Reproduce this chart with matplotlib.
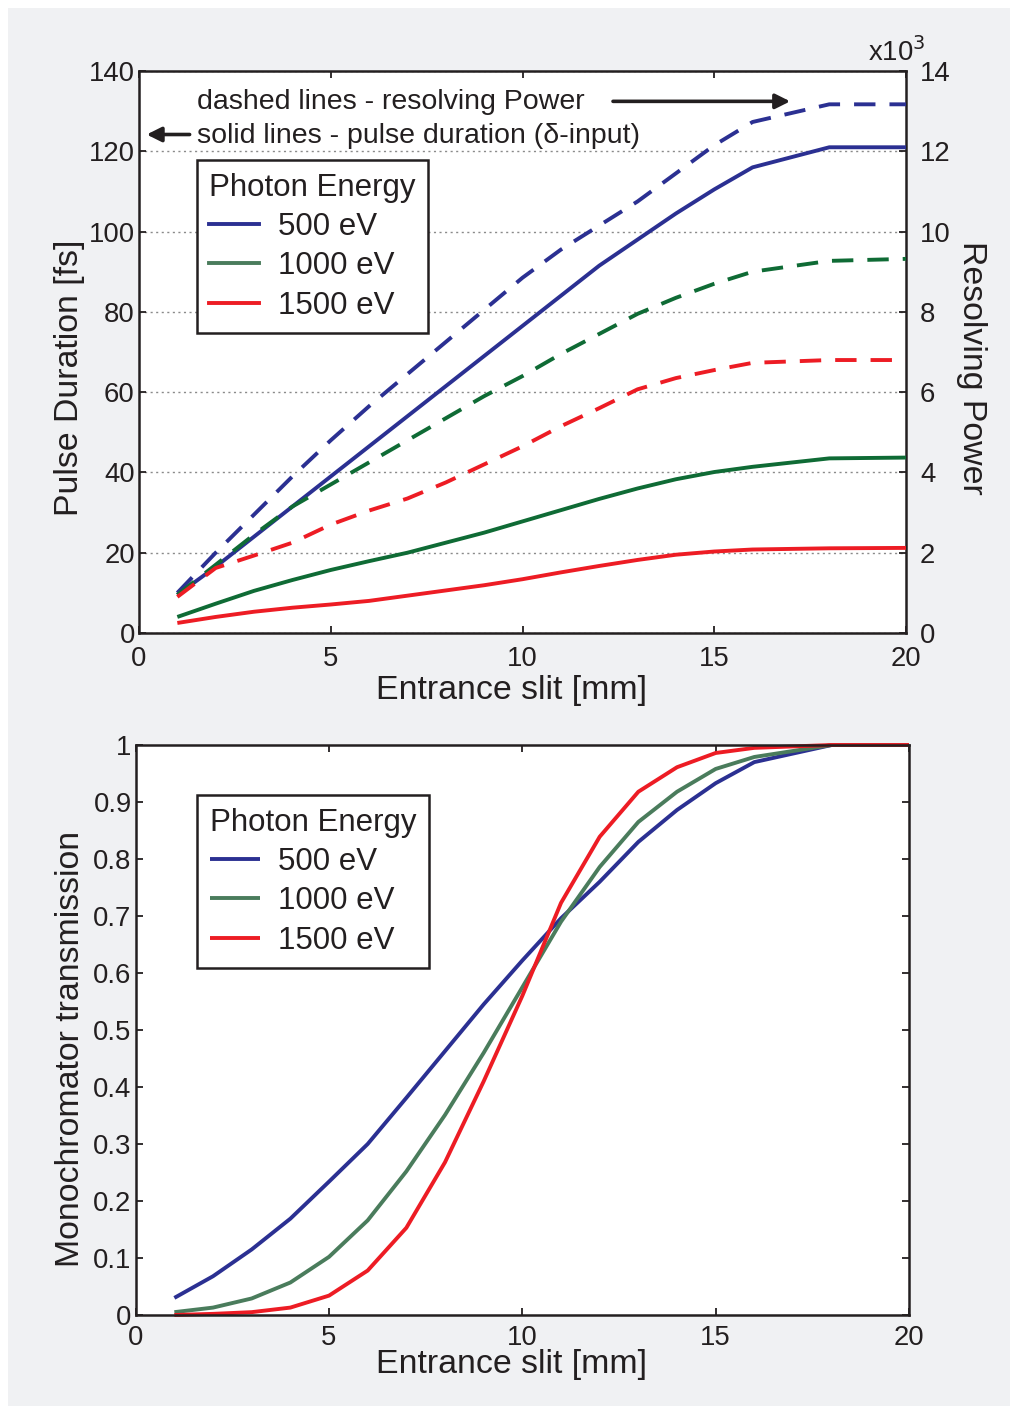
import matplotlib
matplotlib.use("Agg")
import matplotlib.pyplot as plt
from matplotlib.lines import Line2D
from matplotlib.patches import Rectangle

plt.rcParams['font.family'] = ['Liberation Sans', 'DejaVu Sans']
plt.rcParams['text.color'] = '#231f20'
plt.rcParams['axes.labelcolor'] = '#231f20'
plt.rcParams['xtick.color'] = '#231f20'
plt.rcParams['ytick.color'] = '#231f20'

# Entrance slit positions [mm]
slit = [1, 2, 3, 4, 5, 6, 7, 8, 9, 10, 11, 12, 13, 14, 15, 16, 18, 20]

# Pulse duration [fs] (delta-input)
pulse_500 = [9.5, 16.5, 24, 31.5, 39, 46.5, 54, 61.5, 69, 76.5, 84, 91.5, 98, 104.5, 110.5, 116, 121, 121]
pulse_1000 = [4.0, 7.3, 10.5, 13.2, 15.7, 17.9, 20.0, 22.5, 25, 27.8, 30.6, 33.4, 36, 38.3, 40.1, 41.4, 43.5, 43.7]
pulse_1500 = [2.5, 4.0, 5.3, 6.3, 7.1, 8.0, 9.3, 10.6, 11.9, 13.4, 15.1, 16.7, 18.2, 19.5, 20.3, 20.8, 21.1, 21.2]

# Resolving power [x10^3]
rp_500 = [1.0, 2.0, 2.95, 3.9, 4.8, 5.65, 6.45, 7.25, 8.05, 8.85, 9.55, 10.15, 10.75, 11.45, 12.15, 12.73, 13.17, 13.17]
rp_1000 = [0.95, 1.7, 2.45, 3.15, 3.7, 4.25, 4.8, 5.35, 5.9, 6.4, 6.95, 7.45, 7.95, 8.35, 8.7, 9.0, 9.27, 9.32]
rp_1500 = [0.9, 1.62, 1.93, 2.25, 2.7, 3.05, 3.35, 3.75, 4.2, 4.65, 5.15, 5.6, 6.07, 6.35, 6.55, 6.73, 6.8, 6.8]

# Monochromator transmission
tr_500 = [0.03, 0.068, 0.115, 0.169, 0.234, 0.30, 0.381, 0.463, 0.545, 0.622, 0.696, 0.76, 0.83, 0.886, 0.933, 0.97, 1.0, 1.0]
tr_1000 = [0.005, 0.013, 0.029, 0.057, 0.102, 0.166, 0.252, 0.351, 0.46, 0.575, 0.69, 0.786, 0.865, 0.918, 0.958, 0.979, 1.0, 1.0]
tr_1500 = [0.0, 0.002, 0.005, 0.013, 0.034, 0.078, 0.153, 0.268, 0.41, 0.56, 0.723, 0.839, 0.918, 0.961, 0.986, 0.995, 1.0, 1.0]

energies = ['500 eV', '1000 eV', '1500 eV']

BLUE = '#2b3092'
GREEN_DARK = '#0f6b35'
GREEN = '#4a7c5c'
RED = '#ed1c24'
INK = '#231f20'

W, H = 1018, 1414
fig = plt.figure(figsize=(W / 100, H / 100), dpi=100)
fig.patch.set_facecolor('white')
fig.patches.append(Rectangle((8 / W, 8 / H), (W - 16) / W, (H - 16) / H,
                             transform=fig.transFigure, facecolor='#f0f1f3',
                             edgecolor='none', zorder=-10))

LW = 2.8
TICK_FS = 19.8
LABEL_FS = 24.4
LEG_FS = 22.5
NOTE_FS = 20.5


def style_axes(ax):
    for sp in ax.spines.values():
        sp.set_linewidth(1.8)
        sp.set_color(INK)
    ax.set_facecolor('white')
    ax.tick_params(direction='in', length=5, width=1.3, labelsize=TICK_FS,
                   top=True, right=True)


def legend_kw():
    return dict(title='Photon Energy', loc='upper left', fontsize=LEG_FS,
                title_fontsize=LEG_FS, frameon=True, fancybox=False, framealpha=1,
                edgecolor=INK, handlelength=1.6, handletextpad=0.6,
                borderpad=0.4, labelspacing=0.3, borderaxespad=0,
                alignment='left')


# ---------------- upper panel: pulse duration / resolving power ----------------
ax1 = fig.add_axes([139 / W, 1 - 633 / H, 767 / W, 562 / H])
style_axes(ax1)
ax1.set_xlim(0, 20)
ax1.set_ylim(0, 140)
ax1.set_xticks([0, 5, 10, 15, 20])
ax1.set_yticks(range(0, 141, 20))
ax1.tick_params(axis='y', pad=3)
ax1.tick_params(axis='x', pad=9)
ax1.yaxis.grid(True, linestyle=(0, (1.5, 2.5)), color='#8a8a8a', linewidth=1.0)
ax1.set_axisbelow(True)

ax1.plot(slit, pulse_500, color=BLUE, lw=LW, solid_capstyle='butt', zorder=3)
ax1.plot(slit, pulse_1000, color=GREEN_DARK, lw=LW, solid_capstyle='butt', zorder=3)
ax1.plot(slit, pulse_1500, color=RED, lw=LW, solid_capstyle='butt', zorder=3)

ax1.set_xlabel('Entrance slit [mm]', fontsize=LABEL_FS, labelpad=2.5)
ax1.xaxis.label.set_x(0.486)
ax1.set_ylabel('Pulse Duration [fs]', fontsize=LABEL_FS, labelpad=3)
ax1.yaxis.label.set_y(0.454)

ax1r = ax1.twinx()
for sp in ax1r.spines.values():
    sp.set_visible(False)
ax1r.set_ylim(0, 14)
ax1r.set_yticks(range(0, 15, 2))
ax1r.tick_params(direction='in', length=5, width=1.3, labelsize=TICK_FS, pad=10)
dash = (0, (5.5, 3.6))
ax1r.plot(slit, rp_500, color=BLUE, lw=LW, linestyle=dash, zorder=3)
ax1r.plot(slit, rp_1000, color=GREEN_DARK, lw=LW, linestyle=dash, zorder=3)
ax1r.plot(slit, rp_1500, color=RED, lw=LW, linestyle=dash, zorder=3)
ax1r.set_ylabel('Resolving Power', fontsize=LABEL_FS, rotation=-90, labelpad=26)
ax1r.yaxis.label.set_y(0.4715)
ax1r.annotate(r'x10$^{3}$', xy=(1.0, 1.0), xycoords='axes fraction',
              xytext=(-7, 3), textcoords='offset points',
              fontsize=TICK_FS, ha='center', va='bottom')

ax1.text(0.0756, 0.944, 'dashed lines - resolving Power', transform=ax1.transAxes,
         fontsize=NOTE_FS, ha='left', va='center', zorder=5)
ax1.text(0.0756, 0.885, 'solid lines - pulse duration (\u03b4-input)', transform=ax1.transAxes,
         fontsize=NOTE_FS, ha='left', va='center', zorder=5)
ax1.annotate('', xy=(0.849, 0.946), xytext=(0.618, 0.946), xycoords='axes fraction',
             arrowprops=dict(arrowstyle='-|>', lw=2.6, color=INK, mutation_scale=22,
                             shrinkA=0, shrinkB=0), zorder=5)
ax1.annotate('', xy=(0.010, 0.887), xytext=(0.066, 0.887), xycoords='axes fraction',
             arrowprops=dict(arrowstyle='-|>', lw=2.6, color=INK, mutation_scale=22,
                             shrinkA=0, shrinkB=0), zorder=5)

handles_top = [Line2D([], [], color=c, lw=LW) for c in (BLUE, GREEN, RED)]
leg1 = ax1r.legend(handles_top, energies, bbox_to_anchor=(0.0756, 0.8416), **legend_kw())
leg1.get_frame().set_linewidth(1.8)
leg1.set_zorder(10)

# ---------------- lower panel: monochromator transmission ----------------
ax2 = fig.add_axes([135.7 / W, 1 - 1315 / H, 773.3 / W, 570 / H])
style_axes(ax2)
ax2.set_xlim(0, 20)
ax2.set_ylim(0, 1)
ax2.set_xticks([0, 5, 10, 15, 20])
yt = [i / 10 for i in range(11)]
ax2.set_yticks(yt)
ax2.set_yticklabels(['0'] + [f'{v:.1f}' for v in yt[1:-1]] + ['1'])
ax2.tick_params(axis='y', pad=3)
ax2.tick_params(axis='x', pad=7)

ax2.plot(slit, tr_500, color=BLUE, lw=LW, solid_capstyle='butt', label=energies[0], clip_on=False)
ax2.plot(slit, tr_1000, color=GREEN, lw=LW, solid_capstyle='butt', label=energies[1], clip_on=False)
ax2.plot(slit, tr_1500, color=RED, lw=LW, solid_capstyle='butt', label=energies[2], clip_on=False)

ax2.set_xlabel('Entrance slit [mm]', fontsize=LABEL_FS, labelpad=-1)
ax2.xaxis.label.set_x(0.4866)
ax2.set_ylabel('Monochromator transmission', fontsize=LABEL_FS, labelpad=5)
ax2.yaxis.label.set_y(0.467)

leg2 = ax2.legend(bbox_to_anchor=(0.0793, 0.912), **legend_kw())
leg2.get_frame().set_linewidth(1.8)

fig.savefig('out.png', dpi=100, facecolor=fig.get_facecolor())
